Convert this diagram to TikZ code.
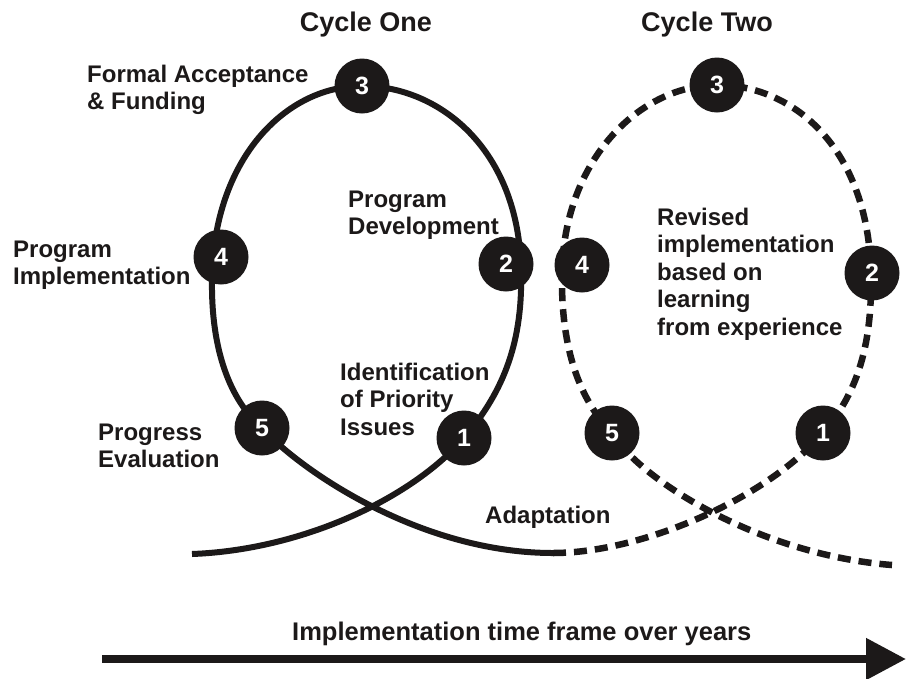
\documentclass[tikz,border=0pt]{standalone}
\usepackage{fontspec}
\setmainfont{Liberation Sans}
\usetikzlibrary{arrows.meta}
\definecolor{ink}{RGB}{28,25,25}
% left-aligned block whose reference point is the first line's baseline
\newcommand\textlines[1]{\begin{tabular}[t]{@{}l@{}}#1\end{tabular}}

\begin{document}
\begin{tikzpicture}[x=1pt,y=-1pt,
  txt/.style={anchor=base west, inner sep=0pt, text=ink,
    font=\fontsize{24}{27.5}\selectfont\bfseries},
  heading/.style={anchor=base, inner sep=0pt, text=ink,
    font=\fontsize{27}{32}\selectfont\bfseries},
  stage/.style={circle, fill=ink, minimum size=55pt, inner sep=0pt,
    text=white, font=\fontsize{25}{30}\selectfont\bfseries},
  cyclepath/.style={draw=ink, line width=6pt},
  cycledash/.style={draw=ink, line width=6.5pt, dash pattern=on 13pt off 8pt},
]
\useasboundingbox[fill=white] (0,0) rectangle (907,678);

% points on the two loops
\coordinate (a0) at (192,554);
\coordinate (p1) at (464,438);
\coordinate (r1) at (521,270);
\coordinate (p3) at (362,86);
\coordinate (l1) at (212,280);
\coordinate (p5) at (262,428);
\coordinate (mid) at (553,553);
\coordinate (q1) at (823,433);
\coordinate (r2) at (871,275);
\coordinate (q3) at (717,85);
\coordinate (l2) at (562,275);
\coordinate (q5) at (612,433);
\coordinate (b0) at (892,565);

% cycle one (solid)
\draw[cyclepath] (a0) .. controls (300,550) and (410,500) .. (p1)
  .. controls (505,390) and (523,340) .. (r1)
  .. controls (519,150) and (440,86) .. (p3)
  .. controls (285,86) and (213,160) .. (l1)
  .. controls (211,350) and (230,400) .. (p5)
  .. controls (300,470) and (420,553) .. (mid);

% cycle two (dashed)
\draw[cycledash] (mid) .. controls (640,553) and (765,500) .. (q1)
  .. controls (860,390) and (872,340) .. (r2)
  .. controls (869,150) and (795,85) .. (q3)
  .. controls (640,85) and (563,160) .. (l2)
  .. controls (561,350) and (580,400) .. (q5)
  .. controls (640,480) and (760,555) .. (b0);

% stage markers, cycle one
\node[stage] (one-1) at (p1) {1};
\node[stage] (one-2) at (506,264) {2};
\node[stage] (one-3) at (p3) {3};
\node[stage] (one-4) at (221,257) {4};
\node[stage] (one-5) at (p5) {5};

% stage markers, cycle two
\node[stage] (two-1) at (q1) {1};
\node[stage] (two-2) at (872,273) {2};
\node[stage] (two-3) at (q3) {3};
\node[stage] (two-4) at (582,265) {4};
\node[stage] (two-5) at (q5) {5};

% headings
\node[heading] (h-one) at (366,31) {Cycle One};
\node[heading] (h-two) at (707,31) {Cycle Two};

% stage descriptions
\node[txt] (t-accept) at (87,82) {\textlines{Formal Acceptance\\\& Funding}};
\node[txt] (t-dev) at (348,207) {\textlines{Program\\Development}};
\node[txt] (t-impl) at (13,257) {\textlines{Program\\Implementation}};
\node[txt] (t-ident) at (340,380) {\textlines{Identification\\of Priority\\Issues}};
\node[txt] (t-eval) at (98,440) {\textlines{Progress\\Evaluation}};
\node[txt] (t-adapt) at (485,523) {Adaptation};
\node[txt] (t-revised) at (657,225) {\textlines{Revised\\implementation\\based on\\learning\\from experience}};

% time axis
\coordinate (tstart) at (102,659);
\coordinate (tend) at (906,659);
\draw[ink, line width=8pt, -{Triangle[length=40pt,width=40pt]}] (tstart) -- (tend);
\node[txt, font=\fontsize{25.5}{30}\selectfont\bfseries] (t-time) at (292,640)
  {Implementation time frame over years};
\end{tikzpicture}
\end{document}
